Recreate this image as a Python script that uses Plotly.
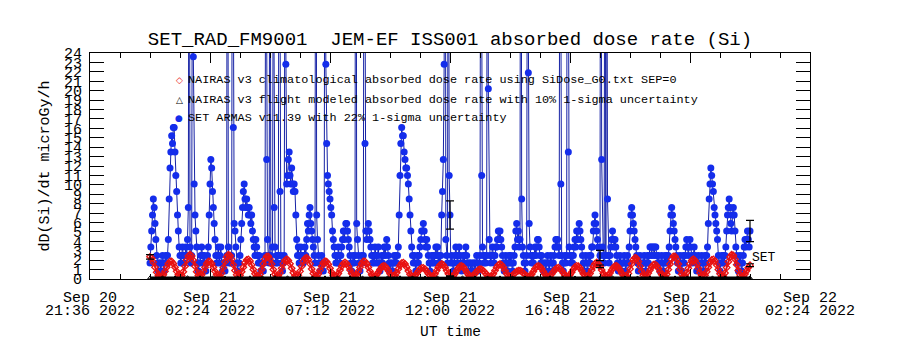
import pandas as pd
import plotly.graph_objects as go

# ---------------- data ----------------
START = "2022-09-21 00:00"
X_RANGE = ["2022-09-20 21:36", "2022-09-22 02:24"]

x_tick_vals = ["2022-09-20 21:36", "2022-09-21 02:24", "2022-09-21 07:12",
               "2022-09-21 12:00", "2022-09-21 16:48", "2022-09-21 21:36",
               "2022-09-22 02:24"]
x_tick_date = ["Sep 20", "Sep 21", "Sep 21", "Sep 21", "Sep 21", "Sep 21", "Sep 22"]
x_tick_time = ["21:36 2022", "02:24 2022", "07:12 2022", "12:00 2022",
               "16:48 2022", "21:36 2022", "02:24 2022"]
y_tick_vals = list(range(0, 25))

# SET ARMAS absorbed dose rate, one value every 2 minutes (uGy/h)
set_armas = [
    1.7,3.4,5.1,6.8,8.5,7.6,5.9,4.2,2.5,1.7, 0.85,1.7,1.7,0.85,1.7,2.5,1.7,0.85,1.7,2.5, 1.7,2.5,4.2,8.5,11.8,13.5,15.2,14.4,16.1,16.1,
    13.5,11,9.3,6.8,5.1,3.4,2.5,1.7,2.5,3.4, 2.5,1.7,2.5,3.4,2.5,4.2,7.6,60,3.4,1.7, 2.5,45,23.6,10.1,6.8,5.1,3.4,1.7,0.85,1.7,
    1.7,2.5,3.4,2.5,1.7,2.5,1.7,0.85,1.7,2.5, 3.4,6.8,10.1,12.7,11.8,9.3,7.6,5.9,4.2,2.5, 1.7,2.5,3.4,1.7,2.5,3.4,1.7,0.85,1.7,1.7,
    0.85,1.7,2.5,80,3.4,1.7,2.5,1.7,2.5,60, 16.1,5.9,5.1,3.4,1.7,0.85,1.7,1.7,2.5,4.2, 5.9,7.6,9.3,10.1,8.5,7.6,8.5,7.6,6.8,7.6,
    6.8,5.9,6.8,5.1,4.2,3.4,2.5,4.2,3.4,2.5, 1.7,2.5,1.7,0.85,1.7,1.7,0.85,1.7,2.5,50, 12.7,4.2,2.5,1.7,70,2.5,1.7,3.4,40,7.6,
    3.4,1.7,2.5,1.7,2.5,60,9.3,2.5,1.7,0.85, 1.7,2.5,40,22.8,10.1,11,12.7,13.5,11,10.1, 11.8,10.1,9.3,10.1,9.3,6.8,4.2,2.5,3.4,1.7,
    2.5,3.4,1.7,2.5,1.7,2.5,3.4,2.5,4.2,5.9, 5.1,6.8,7.6,5.9,5.1,4.2,3.4,2.5,1.7,70, 6.8,4.2,2.5,1.7,0.85,1.7,2.5,1.7,0.85,1.7,
    60,22.8,14.4,11,10.1,9.3,8.5,7.6,6.8,5.1, 4.2,3.4,2.5,1.7,2.5,1.7,3.4,2.5,1.7,2.5, 3.4,4.2,5.1,4.2,5.1,5.9,5.9,5.1,4.2,3.4,
    2.5,1.7,0.85,1.7,2.5,1.7,2.5,80,5.9,4.2, 2.5,1.7,0.85,1.7,2.5,1.7,2.5,60,14.4,5.1, 4.2,5.1,5.9,5.1,4.2,3.4,2.5,1.7,2.5,1.7,
    3.4,2.5,1.7,2.5,3.4,1.7,0.85,1.7,2.5,1.7, 2.5,3.4,2.5,3.4,4.2,3.4,2.5,1.7,0.85,1.7, 1.7,0.85,1.7,2.5,1.7,2.5,1.7,2.5,3.4,6.8,
    11,14.4,16.1,15.2,15.2,13.5,12.7,11.8,11.8,11, 10.1,8.5,6.8,5.1,3.4,2.5,1.7,2.5,1.7,0.85, 1.7,2.5,1.7,2.5,3.4,4.2,5.1,5.1,5.9,5.1,
    4.2,3.4,4.2,3.4,2.5,1.7,0.85,1.7,2.5,1.7, 2.5,1.7,2.5,3.4,2.5,3.4,1.7,2.5,1.7,2.5, 6.8,9.3,12.7,22.8,90,4.2,2.5,1.7,60,11,
    6.8,1.7,2.5,1.7,0.85,1.7,2.5,3.4,2.5,1.7, 2.5,3.4,2.5,1.7,0.85,1.7,2.5,1.7,2.5,3.4, 2.5,1.7,0.85,1.7,1.7,0.85,1.7,0.85,1.7,1.7,
    0.85,1.7,2.5,1.7,0.85,1.7,2.5,60,11,3.4, 2.5,1.7,2.5,1.7,2.5,70,20.2,4.2,2.5,1.7, 2.5,3.4,2.5,1.7,2.5,3.4,3.4,4.2,5.1,4.2,
    5.1,4.2,3.4,2.5,1.7,0.85,1.7,2.5,1.7,0.85, 1.7,2.5,1.7,2.5,1.7,0.85,1.7,2.5,3.4,5.1, 5.9,4.2,5.1,3.4,4.2,80,8.5,3.4,2.5,1.7,
    0.85,1.7,2.5,50,21.9,5.9,3.4,2.5,1.7,2.5, 1.7,2.5,3.4,2.5,3.4,4.2,4.2,3.4,2.5,1.7, 2.5,1.7,0.85,1.7,1.7,0.85,1.7,2.5,1.7,0.85,
    1.7,2.5,1.7,0.85,1.7,2.5,3.4,4.2,3.4,4.2, 3.4,2.5,60,10.1,2.5,1.7,0.85,1.7,2.5,1.7, 2.5,80,13.5,3.4,2.5,1.7,2.5,1.7,2.5,3.4,
    4.2,3.4,5.1,4.2,5.1,5.9,5.1,4.2,3.4,2.5, 1.7,0.85,1.7,2.5,1.7,0.85,1.7,2.5,1.7,2.5, 3.4,3.4,5.1,5.9,6.8,5.9,5.1,4.2,3.4,1.7,
    2.5,80,12.7,3.4,2.5,1.7,70,2.5,60,8.5, 2.5,1.7,2.5,3.4,4.2,5.1,4.2,3.4,4.2,3.4, 2.5,1.7,0.85,1.7,2.5,1.7,0.85,1.7,1.7,2.5,
    1.7,0.85,1.7,2.5,1.7,3.4,5.1,6.8,7.6,6.8, 5.9,5.1,4.2,3.4,2.5,1.7,0.85,1.7,2.5,1.7, 0.85,1.7,1.7,2.5,1.7,0.85,1.7,2.5,1.7,2.5,
    3.4,3.4,2.5,3.4,3.4,2.5,3.4,3.4,2.5,1.7, 2.5,1.7,0.85,1.7,2.5,1.7,0.85,1.7,2.5,1.7, 2.5,1.7,2.5,3.4,5.1,6.8,7.6,6.8,5.9,5.1,
    4.2,3.4,2.5,1.7,0.85,1.7,2.5,1.7,0.85,1.7, 2.5,1.7,2.5,3.4,4.2,3.4,2.5,3.4,4.2,3.4, 2.5,1.7,2.5,3.4,2.5,1.7,0.85,1.7,2.5,1.7,
    0.85,1.7,2.5,1.7,0.85,1.7,2.5,1.7,2.5,3.4, 5.9,8.5,10.1,11.8,11,10.1,9.3,7.6,6.8,5.9, 5.1,4.2,2.5,1.7,0.85,1.7,2.5,1.7,2.5,1.7,
    2.5,3.4,5.1,6.8,7.6,8.5,7.6,5.9,5.1,6.8, 7.6,6.8,5.1,3.4,2.5,1.7,0.85,1.7,2.5,1.7, 0.85,1.7,2.5,3.4,4.2,3.4,4.2,5.1,4.2,3.4,
    5.1,
]

# NAIRAS v3 climatological absorbed dose rate, one value every 4 minutes (uGy/h)
nairas_clim = [
    2.35,2.2,1.79,1.25,0.71,0.35,0.25,0.26,0.45,0.81,1.25,1.64,1.87,1.87,1.64,
    1.25,0.81,0.45,0.26,0.36,0.77,1.36,1.98,2.43,2.6,2.43,1.98,1.36,0.77,0.36,
    0.26,0.45,0.81,1.25,1.64,1.87,1.87,1.64,1.25,0.81,0.45,0.26,0.30,0.64,1.21,
    1.83,2.34,2.59,2.50,2.11,1.52,0.91,0.44,0.25,0.40,0.77,1.25,1.72,2.02,2.09,
    1.90,1.50,1.0,0.56,0.29,0.27,0.51,1.0,1.59,2.11,2.41,2.41,2.11,1.59,1.0,
    0.51,0.27,0.34,0.66,1.13,1.61,1.97,2.1,1.97,1.61,1.13,0.66,0.34,0.25,0.41,
    0.81,1.34,1.85,2.19,2.26,2.05,1.61,1.07,0.59,0.30,0.29,0.53,0.92,1.36,1.72,
    1.89,1.83,1.56,1.14,0.71,0.38,0.25,0.32,0.58,0.96,1.35,1.64,1.75,1.64,1.35,
    0.96,0.58,0.32,0.26,0.45,0.81,1.25,1.64,1.87,1.87,1.64,1.25,0.81,0.45,0.26,
    0.28,0.44,0.72,1.02,1.27,1.39,1.35,1.16,0.87,0.57,0.34,0.25,0.37,0.67,1.06,
    1.44,1.69,1.74,1.59,1.26,0.86,0.50,0.28,0.26,0.36,0.57,0.83,1.05,1.18,1.18,
    1.05,0.83,0.57,0.36,0.26,0.31,0.55,0.89,1.24,1.50,1.6,1.50,1.24,0.89,0.55,
    0.31,0.25,0.34,0.57,0.87,1.16,1.35,1.39,1.27,1.02,0.72,0.44,0.28,0.27,0.38,
    0.58,0.79,0.96,1.05,1.02,0.88,0.68,0.47,0.31,0.25,0.31,0.55,0.89,1.24,1.50,
    1.6,1.50,1.24,0.89,0.55,0.31,0.25,0.33,0.47,0.65,0.80,0.89,0.89,0.80,0.65,
    0.47,0.33,0.25,0.30,0.50,0.80,1.10,1.32,1.4,1.32,1.10,0.80,0.50,0.30,0.25,
    0.33,0.52,0.76,1.0,1.16,1.20,1.10,0.89,0.64,0.41,0.27,0.28,0.44,0.72,1.02,
    1.27,1.39,1.35,1.16,0.87,0.57,0.34,0.25,0.32,0.58,0.96,1.35,1.64,1.75,1.64,
    1.35,0.96,0.58,0.32,0.26,0.39,0.64,0.95,1.22,1.38,1.38,1.22,0.95,0.64,0.39,
    0.26,0.30,0.59,1.07,1.61,2.05,2.26,2.19,1.85,1.34,0.81,0.41,0.25,0.35,0.62,
    0.96,1.29,1.51,1.55,1.42,1.13,0.78,0.47,0.28,0.27,0.51,1.0,1.59,2.11,2.41,
    2.41,2.11,1.59,1.0,0.51,0.27,0.34,0.66,1.13,1.61,1.97,2.1,1.97,1.61,1.13,
    0.66,0.34,0.25,0.40,0.77,1.25,1.72,2.02,2.09,1.90,1.50,1.0,0.56,0.29,0.30,
    0.64,1.21,1.83,2.34,2.59,2.50,2.11,1.52,0.91,0.44,0.25,0.31,0.54,0.87,1.21,
    1.47,
]

# NAIRAS v3 flight modeled absorbed dose rate, one value every 30 minutes (uGy/h)
nairas_flight = [
    0.12,0.13,0.12,0.14,0.13,0.12,0.11,0.12,0.13,0.12,
    0.14,0.13,0.12,0.11,0.12,0.13,0.12,0.12,0.11,0.12,
    0.13,0.12,0.11,0.12,0.12,0.13,0.12,0.11,0.12,0.12,
    0.11,0.12,0.13,0.12,0.11,0.12,0.12,0.13,0.12,0.11,
    0.12,0.13,0.12,0.12,0.11,0.12,0.13,0.12,0.12,
]

# samples that carry the 1-sigma error bars
armas_err_idx = [360, 540, 720]
clim_err_idx = [0, 180, 270, 360]
ARMAS_SIGMA = 22
NAIRAS_SIGMA = 10

# ---------------- figure ----------------
armas_t = pd.date_range(START, periods=len(set_armas), freq="2min")
clim_t = pd.date_range(START, periods=len(nairas_clim), freq="4min")
flight_t = pd.date_range(START, periods=len(nairas_flight), freq="30min")

BLUE_LINE = "rgb(22,34,165)"
BLUE_MARK = "rgb(20,45,235)"
RED = "rgb(232,18,18)"
FONT = "Liberation Mono"

fig = go.Figure()
fig.add_trace(go.Scatter(
    x=armas_t, y=set_armas, mode="lines+markers",
    line=dict(color=BLUE_LINE, width=1),
    marker=dict(symbol="circle", size=7, color=BLUE_MARK),
))
fig.add_trace(go.Scatter(
    x=clim_t, y=nairas_clim, mode="lines+markers",
    line=dict(color=RED, width=2),
    marker=dict(symbol="diamond-open", size=5, color=RED, line=dict(width=1.3)),
))
fig.add_trace(go.Scatter(
    x=flight_t, y=nairas_flight, mode="lines+markers",
    line=dict(color="black", width=2.5),
    marker=dict(symbol="triangle-up-open", size=4, color="black"),
    xaxis="x2",
))
fig.add_trace(go.Scatter(
    x=[clim_t[i] for i in clim_err_idx], y=[nairas_clim[i] for i in clim_err_idx],
    mode="markers", marker=dict(size=1, color="rgba(0,0,0,0)"),
    error_y=dict(type="percent", value=NAIRAS_SIGMA, color="black", thickness=1.2, width=4),
))
fig.add_trace(go.Scatter(
    x=[armas_t[i] for i in armas_err_idx], y=[set_armas[i] for i in armas_err_idx],
    mode="markers", marker=dict(size=1, color="rgba(0,0,0,0)"),
    error_y=dict(type="percent", value=ARMAS_SIGMA, color="black", thickness=1.2, width=4),
))

L, R, T, B = 90, 90, 53, 71
W, H = 900, 350
PW, PH = W - L - R, H - T - B


def px(xp):
    return (xp - L) / PW


def py(yp):
    return (H - B - yp) / PH


common_x = dict(type="date", range=X_RANGE, tickvals=x_tick_vals, showgrid=False,
                zeroline=False, tickfont=dict(family=FONT, size=15, color="black"))

fig.update_layout(
    width=W, height=H, margin=dict(l=L, r=R, t=T, b=B),
    paper_bgcolor="white", plot_bgcolor="white", showlegend=False,
    font=dict(family=FONT, color="black"),
    title=dict(text="SET_RAD_FM9001\u00a0 JEM-EF ISS001 absorbed dose rate (Si)",
               x=0.5, xanchor="center", y=1 - 38 / H, yanchor="middle", yref="container",
               font=dict(family=FONT, size=19, color="black")),
    xaxis=dict(**common_x, ticktext=x_tick_date, ticks="inside", ticklen=10, tickwidth=1,
               tickcolor="black", showline=True, linecolor="black", linewidth=1,
               mirror="ticks", ticklabelstandoff=4,
               minor=dict(ticks="inside", ticklen=5, tickcolor="black",
                          tick0=X_RANGE[0], dtick=72 * 60 * 1000, showgrid=False)),
    xaxis2=dict(**common_x, ticktext=x_tick_time, overlaying="x", anchor="y", side="bottom",
                matches="x", ticks="", showline=False, ticklabelstandoff=20),
    yaxis=dict(range=[0, 24], tickvals=y_tick_vals, ticks="inside", ticklen=14, tickwidth=1,
               tickcolor="black", showline=True, linecolor="black", linewidth=1,
               mirror="ticks", showgrid=False, zeroline=False, ticklabelstandoff=4,
               tickfont=dict(family=FONT, size=15, color="black"),
               title=dict(text="dD(Si)/dt microGy/h", standoff=10,
                          font=dict(family=FONT, size=15, color="black"))),
)

legend_rows = [
    ("\u25c7", RED, "NAIRAS v3 climatological absorbed dose rate using SiDose_G0.txt SEP=0", 80),
    ("\u25b3", "black", "NAIRAS v3 flight modeled absorbed dose rate with 10% 1-sigma uncertainty", 100),
    ("\u25cf", BLUE_MARK, "SET ARMAS v11.39 with 22% 1-sigma uncertainty", 118.5),
]
for sym, col, txt, ypix in legend_rows:
    fig.add_annotation(xref="paper", yref="paper", x=px(179), y=py(ypix), text=sym,
                       showarrow=False, xanchor="center", yanchor="middle",
                       font=dict(family="DejaVu Sans", size=9, color=col))
    fig.add_annotation(xref="paper", yref="paper", x=px(186), y=py(ypix), text=txt,
                       showarrow=False, xanchor="left", yanchor="middle",
                       font=dict(family=FONT, size=11.8, color="black"))

fig.add_annotation(xref="paper", yref="paper", x=0.5, y=0, yshift=-(332 - (H - B)),
                   text="UT time", showarrow=False, xanchor="center", yanchor="middle",
                   font=dict(family=FONT, size=14.5, color="black"))
fig.add_annotation(xref="paper", yref="paper", x=px(750), y=py(257), text="SET",
                   showarrow=False, xanchor="left", yanchor="middle",
                   font=dict(family=FONT, size=13, color="black"))

fig.write_html("out.html")
